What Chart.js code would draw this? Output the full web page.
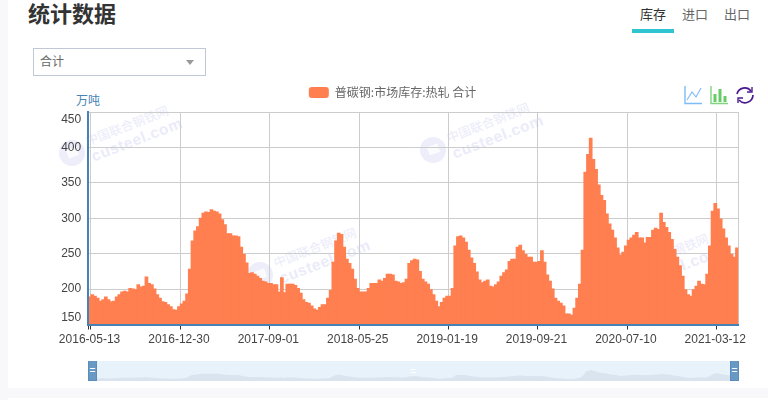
<!DOCTYPE html>
<html>
<head>
<meta charset="utf-8">
<style>
  html, body { margin: 0; padding: 0; background: #f8f8fb; overflow: hidden; }
  #page { position: relative; width: 768px; height: 400px; overflow: hidden; font-family: "Noto Sans CJK SC", sans-serif; }
  #card { position: absolute; left: 8px; top: 0; width: 760px; height: 388px; background: #fff; }
  #nextCard { position: absolute; left: 8px; top: 398px; width: 760px; height: 2px; background: #fff; }
  #title { position: absolute; left: 28px; top: -4px; font-size: 22px; line-height: 32px; font-weight: 700; color: #333; }
  .tab { position: absolute; top: 4px; font-size: 13px; line-height: 20px; color: #666; }
  #tabLine { position: absolute; left: 632px; top: 29px; width: 42px; height: 4px; background: #2fc4d0; }
  #select { position: absolute; left: 33px; top: 48px; width: 171px; height: 26px; border: 1px solid #c0c8d8; font-size: 12px; line-height: 23px; color: #666; text-indent: 6px; }
  #select i { position: absolute; left: 152px; top: 11px; width: 0; height: 0; border: 4px solid transparent; border-top: 5px solid #999; }
  #unit { position: absolute; left: 76px; top: 92px; font-size: 12px; line-height: 16px; color: #4682b4; }
  .mark { position: absolute; width: 0; height: 0; }
  .mark b { position: absolute; left: -13px; top: -13px; width: 26px; height: 26px; border-radius: 50%; background: #eeeefb; }
  .mark b::after { content: ""; position: absolute; left: 8px; top: 8px; width: 11px; height: 9px; background: #fbfbfe; transform: rotate(-20deg); }
  .mark span { position: absolute; white-space: nowrap; transform-origin: 0 50%; transform: rotate(-21deg); color: #ebebfa; }
  .mark .l1 { left: 14px; top: -20px; font-size: 12.5px; line-height: 16px; }
  .mark .l2 { left: 20px; top: -6px; font: bold 15.5px/20px "Liberation Sans", sans-serif; letter-spacing: 0.6px; }
  #main { position: absolute; left: 0; top: 0; }
  #tools { position: absolute; left: 682px; top: 84px; }
  #slider { position: absolute; left: 88px; top: 361px; width: 650px; height: 20px; background: #e8f2fb; }
  #preview { position: absolute; left: 0; top: 0; }
  .handle { position: absolute; top: 0; width: 7px; height: 19px; background: #6898c4; border: 1px solid #5a8cbc; border-width: 0 1px 1px 1px; color: #fff; font: 10px/20px "Liberation Sans", sans-serif; text-align: center; }
  #grip { position: absolute; left: 322px; top: 0; color: #fff; font: 11px/20px "Liberation Sans", sans-serif; }
</style>
</head>
<body>
<div id="page">
  <div id="card"></div>
  <div id="nextCard"></div>
  <div id="title">统计数据</div>
  <div class="tab" style="left:640px;color:#333">库存</div>
  <div class="tab" style="left:682px">进口</div>
  <div class="tab" style="left:724px">出口</div>
  <div id="tabLine"></div>
  <div id="select">合计<i></i></div>
  <div id="unit">万吨</div>

  <div class="mark" style="left:72px;top:153px"><b></b><span class="l1">中国联合钢铁网</span><span class="l2">custeel.com</span></div>
  <div class="mark" style="left:433px;top:150px"><b></b><span class="l1">中国联合钢铁网</span><span class="l2">custeel.com</span></div>
  <div class="mark" style="left:260px;top:275px"><b></b><span class="l1">中国联合钢铁网</span><span class="l2">custeel.com</span></div>
  <div class="mark" style="left:612px;top:281px"><b></b><span class="l1">中国联合钢铁网</span><span class="l2">custeel.com</span></div>

  <canvas id="main" width="768" height="400"></canvas>

  <svg id="tools" width="74" height="22" viewBox="0 0 74 22" fill="none">
    <path d="M3 2V19.5H20" stroke="#7dbcfa" stroke-width="1.4"/>
    <path d="M5 16L10 8L14 13L19 4" stroke="#7dbcfa" stroke-width="1.1"/>
    <path d="M29 2V19.5H46" stroke="#7fd67f" stroke-width="1.4"/>
    <path d="M33 18V10M38 18V5M43 18V12" stroke="#66cc66" stroke-width="3"/>
    <path d="M55 10A8 8 0 0 1 69 7M71 11A8 8 0 0 1 57 16" stroke="#4b1a8f" stroke-width="1.7"/>
    <path d="M70 3V8H65M56 19V14H61" stroke="#4b1a8f" stroke-width="1.4"/>
  </svg>

  <div id="slider">
    <canvas id="preview" width="650" height="20"></canvas>
    <div id="grip">=</div>
    <div class="handle" style="left:0">=</div>
    <div class="handle" style="left:642px">=</div>
  </div>
</div>

<script src="https://cdn.jsdelivr.net/npm/chart.js@4/dist/chart.umd.min.js"></script>
<script>
const tickDates = ["2016-05-13", "2016-12-30", "2017-09-01", "2018-05-25", "2019-01-19", "2019-09-21", "2020-07-10", "2021-03-12"];
const yTicks = [150, 200, 250, 300, 350, 400, 450];
const seriesName = "普碳钢:市场库存:热轧 合计";
const tickEvery = 33;

const stock2016 = [189, 192, 190, 187, 183, 185, 189, 185, 182, 183, 189, 192, 196, 197, 196, 201, 200, 199, 206, 203,
  204, 217, 208, 206, 200, 192, 187, 182, 181, 178, 175, 171, 170, 175, 179, 183, 193, 228, 268, 282];
const stock2017 = [288, 300, 307, 309, 308, 312, 310, 309, 306, 298, 291, 278, 278, 275, 275, 274, 259, 249, 237, 222,
  223, 221, 218, 215, 211, 210, 208, 208, 206, 206, 196, 216, 195, 207, 207, 207, 205, 201, 194, 185];
const stock2018 = [181, 180, 176, 172, 170, 174, 178, 178, 187, 198, 238, 268, 279, 277, 259, 242, 236, 228, 214, 201,
  196, 196, 196, 201, 208, 208, 208, 213, 211, 215, 221, 221, 220, 211, 210, 208, 209, 214, 236, 240];
const stock2019 = [242, 241, 225, 214, 210, 207, 199, 192, 183, 175, 181, 187, 190, 190, 201, 261, 274, 275, 272, 266,
  255, 244, 236, 224, 213, 209, 211, 213, 204, 203, 206, 210, 218, 223, 227, 239, 242, 242, 259, 262];
const stock2020 = [254, 249, 245, 245, 238, 238, 239, 254, 238, 220, 211, 200, 187, 183, 180, 176, 165, 165, 163, 173,
  187, 207, 255, 365, 390, 413, 383, 369, 347, 332, 325, 306, 292, 283, 272, 258, 248, 252, 261, 269];
const stock2021 = [272, 276, 280, 272, 272, 265, 273, 273, 283, 286, 284, 307, 294, 287, 280, 270, 256, 245, 233, 218,
  199, 192, 190, 199, 204, 211, 207, 206, 221, 261, 310, 321, 313, 299, 285, 272, 261, 249, 245, 258];

const values = [...stock2016, ...stock2017, ...stock2018, ...stock2019, ...stock2020, ...stock2021];
const categories = values.map((_, i) => (i % tickEvery === 0 ? tickDates[i / tickEvery] : ""));

const gridColor = "#ccc";
const axisColor = "#4682b4";
const textColor = "#444";
const tickFont = { family: '"Liberation Sans", Arial, sans-serif', size: 12 };

function gridLineColor(ctx) {
  // gridlines sit on the band edge after the labelled bar
  if (ctx.index === undefined) return gridColor;
  return ctx.index % tickEvery === 1 ? gridColor : "transparent";
}

function tickMarkColor(ctx) {
  if (ctx.index === undefined) return "transparent";
  return ctx.index === 0 || ctx.index % tickEvery === 1 ? "#333" : "transparent";
}

// a bit more air between the legend and the plot
const legendGap = {
  id: "legendGap",
  beforeLayout(chart) {
    const fit = chart.legend.fit;
    chart.legend.fit = function () {
      fit.call(this);
      this.height += 3.5;
    };
  }
};

new Chart(document.getElementById("main"), {
  type: "bar",
  plugins: [legendGap],
  data: {
    labels: categories,
    datasets: [{
      label: seriesName,
      data: values,
      backgroundColor: "#ff7f50",
      borderWidth: 0,
      inflateAmount: 0.5,
      barPercentage: 1,
      categoryPercentage: 1
    }]
  },
  options: {
    responsive: false,
    animation: false,
    layout: { padding: { left: 46.7, right: 29.7, top: 72.5, bottom: 40 } },
    plugins: {
      tooltip: { enabled: false },
      legend: {
        position: "top",
        labels: {
          boxWidth: 20,
          boxHeight: 11,
          padding: 14,
          useBorderRadius: true,
          borderRadius: 3,
          color: "#666",
          font: { family: '"Noto Sans CJK SC", sans-serif', size: 12 }
        }
      }
    },
    scales: {
      x: {
        afterFit: (scale) => { scale.height = 35.5; },
        grid: { offset: true, color: gridLineColor, tickColor: tickMarkColor, tickLength: 5, lineWidth: 1 },
        border: { color: axisColor, width: 2, z: 1 },
        ticks: {
          autoSkip: false,
          maxRotation: 0,
          padding: 3,
          color: textColor,
          font: tickFont,
          callback: (value, i) => categories[i]
        }
      },
      y: {
        min: yTicks[0],
        max: yTicks[yTicks.length - 1],
        afterFit: (scale) => { scale.width = 41.5; },
        grid: { color: gridColor, drawTicks: false, lineWidth: 1 },
        border: { color: axisColor, width: 2, z: 1 },
        ticks: {
          stepSize: 50,
          padding: 7,
          color: textColor,
          font: tickFont,
          // the two end labels are pulled inside the plot
          callback: (value) => {
            if (value === yTicks[yTicks.length - 1]) return ["", String(value)];
            if (value === yTicks[0]) return [String(value), ""];
            return String(value);
          }
        }
      }
    }
  }
});

new Chart(document.getElementById("preview"), {
  type: "line",
  data: {
    labels: categories,
    datasets: [{
      data: values,
      fill: "start",
      backgroundColor: "#d9e4ee",
      borderWidth: 0,
      pointRadius: 0,
      tension: 0
    }]
  },
  options: {
    responsive: false,
    animation: false,
    plugins: { legend: { display: false }, tooltip: { enabled: false } },
    scales: {
      x: { display: false },
      y: { display: false, min: 110, max: 660 }
    }
  }
});
</script>
</body>
</html>
